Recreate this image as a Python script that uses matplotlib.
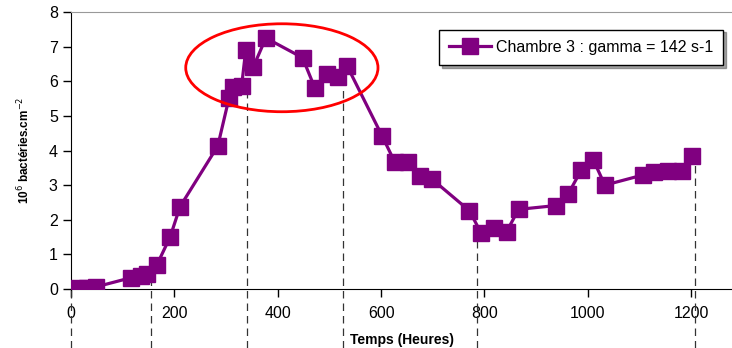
import matplotlib
matplotlib.use("Agg")
import matplotlib.pyplot as plt
from matplotlib.patches import Ellipse

plt.rcParams['font.family'] = ['Liberation Sans', 'DejaVu Sans']

# Chambre 3 measurements
temps = [0, 15, 30, 48, 117, 135, 148, 166, 192, 211, 284, 306, 314, 330, 338,
         353, 377, 448, 472, 495, 517, 534, 602, 626, 653, 675, 698, 771, 793,
         819, 843, 866, 938, 962, 987, 1011, 1033, 1106, 1128, 1156, 1182, 1201]
bacteries = [0.0, 0.02, 0.04, 0.06, 0.33, 0.37, 0.44, 0.69, 1.51, 2.38, 4.13,
             5.53, 5.82, 5.85, 6.89, 6.42, 7.25, 6.68, 5.80, 6.21, 6.12, 6.45,
             4.42, 3.68, 3.68, 3.27, 3.18, 2.26, 1.63, 1.77, 1.66, 2.30, 2.41,
             2.74, 3.43, 3.72, 3.00, 3.29, 3.37, 3.42, 3.40, 3.84]

# dashed guide lines (time, height reached)
guide_x = [0, 155, 340, 526, 786, 1207]
guide_y = [0.0, 0.45, 6.89, 6.15, 1.63, 3.84]

xticks = [0, 200, 400, 600, 800, 1000, 1200]
yticks = [0, 1, 2, 3, 4, 5, 6, 7, 8]

fig = plt.figure(figsize=(7.32, 3.48), dpi=100)
ax = fig.add_axes([0.097, 0.1695, 0.903, 0.796])

ax.plot(temps, bacteries, color='#800080', linewidth=2.3, marker='s',
        markersize=11.5, markeredgecolor='#800080',
        label='Chambre 3 : gamma = 142 s-1', zorder=3)

for gx, gy in zip(guide_x, guide_y):
    ax.plot([gx, gx], [-1.7, gy], color='#333333', linewidth=0.9,
            linestyle=(0, (6, 4)), clip_on=False, zorder=2)

ell = Ellipse((408, 6.39), 372, 2.54, fill=False, edgecolor='red',
              linewidth=2, zorder=4)
ax.add_patch(ell)

ax.set_xlim(0, 1279)
ax.set_ylim(0, 8)
ax.set_xticks(xticks)
ax.set_yticks(yticks)
ax.tick_params(axis='both', direction='out', length=6, width=1,
               labelsize=11.5, colors='black')
ax.tick_params(axis='x', pad=6)

ax.spines['right'].set_visible(False)
ax.spines['top'].set_color('#999999')
ax.spines['left'].set_color('black')
ax.spines['bottom'].set_color('black')

ax.set_xlabel('Temps (Heures)', fontsize=10, fontweight='bold', labelpad=9)
ax.set_ylabel('10$^{6}$ bactéries.cm$^{-2}$', fontsize=8.5,
              fontweight='bold', labelpad=12)

leg = ax.legend(loc='upper right', bbox_to_anchor=(0.999, 0.965),
                fancybox=False, shadow=True, edgecolor='black',
                fontsize=11.5, handlelength=2.6, handletextpad=0.3,
                borderpad=0.65, framealpha=1)
leg.get_frame().set_linewidth(1)

fig.savefig('out.png', dpi=100)
